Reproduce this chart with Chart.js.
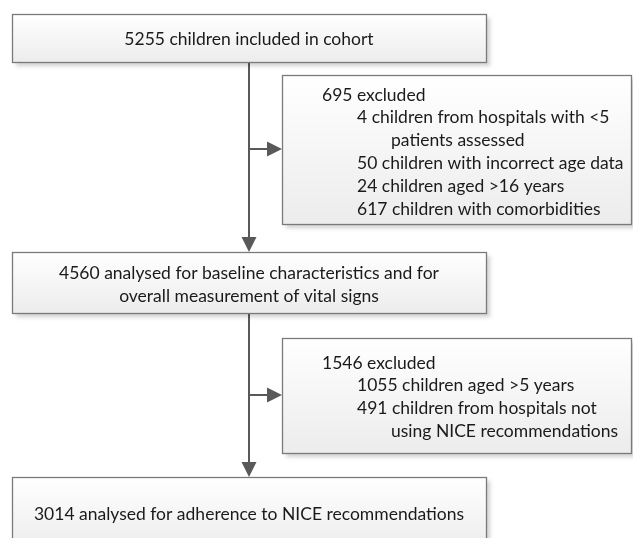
<!DOCTYPE html>
<html>
<head>
<meta charset="utf-8">
<script src="https://cdn.jsdelivr.net/npm/chart.js@4"></script>
<style>
  html, body { margin: 0; padding: 0; background: #fff; }
  #wrap { width: 633px; height: 538px; }
</style>
</head>
<body>
<div id="wrap"><canvas id="flow"></canvas></div>
<script>
// ---------- DATA ----------
const stageCounts = [5255, 4560, 3014];
const stageLabels = [
  ["children included in cohort"],
  ["analysed for baseline characteristics and for", "overall measurement of vital signs"],
  ["analysed for adherence to NICE recommendations"]
];

const excludedTotals = [695, 1546];
const excl1Counts = [4, 50, 24, 617];
const excl1Labels = [
  ["children from hospitals with <5", "patients assessed"],
  ["children with incorrect age data"],
  ["children aged >16 years"],
  ["children with comorbidities"]
];
const excl2Counts = [1055, 491];
const excl2Labels = [
  ["children aged >5 years"],
  ["children from hospitals not", "using NICE recommendations"]
];

// ---------- LAYOUT (page units, y goes down) ----------
const mainBoxes = [
  { x0: 12, x1: 486, y0: 14, y1: 62, textY: 38 },
  { x0: 12, x1: 486, y0: 252, y1: 313, textY: 284 },
  { x0: 12, x1: 486, y0: 477, y1: 550, textY: 513 }
];
const sideBoxes = [
  { x0: 282, x1: 631, y0: 75, y1: 224, branchY: 149, textY: 94 },
  { x0: 282, x1: 631, y0: 338, y1: 453, branchY: 395, textY: 362 }
];
const spineX = 249;
const LINE_H = 22.8;
const FONT = "17.5px Lato";
const indents = [322, 357, 391];

function buildMainText(i) {
  const lines = stageLabels[i].slice();
  lines[0] = stageCounts[i] + " " + lines[0];
  return lines;
}

function buildSideText(total, counts, labels) {
  const out = [{ t: total + " excluded", indent: 0 }];
  counts.forEach((c, i) => {
    labels[i].forEach((l, j) => {
      out.push(j === 0 ? { t: c + " " + l, indent: 1 } : { t: l, indent: 2 });
    });
  });
  return out;
}

// ---------- PLUGIN ----------
const flowPlugin = {
  id: "flow",
  afterDraw(chart) {
    const ctx = chart.ctx;
    const sx = v => chart.scales.x.getPixelForValue(v);
    const sy = v => chart.scales.y.getPixelForValue(v);

    function box(b) {
      const x0 = Math.round(sx(b.x0)) + 0.5, x1 = Math.round(sx(b.x1)) + 0.5;
      const y0 = Math.round(sy(b.y0)) + 0.5, y1 = Math.round(sy(b.y1)) + 0.5;
      ctx.save();
      ctx.shadowColor = "rgba(0,0,0,0.18)";
      ctx.shadowBlur = 4;
      ctx.shadowOffsetX = 3;
      ctx.shadowOffsetY = 3;
      const g = ctx.createLinearGradient(0, y0, 0, y1);
      g.addColorStop(0, "#ffffff");
      g.addColorStop(1, "#ececec");
      ctx.fillStyle = g;
      ctx.fillRect(x0, y0, x1 - x0, y1 - y0);
      ctx.restore();
      ctx.save();
      ctx.strokeStyle = "#7a7a7a";
      ctx.lineWidth = 1.3;
      ctx.strokeRect(x0, y0, x1 - x0, y1 - y0);
      ctx.restore();
    }

    function arrow(xa, ya, xb, yb) {
      const ax = sx(xa), ay = sy(ya), bx = sx(xb), by = sy(yb);
      const ang = Math.atan2(by - ay, bx - ax);
      const L = 15, W = 7.5;
      ctx.save();
      ctx.strokeStyle = "#595959";
      ctx.fillStyle = "#595959";
      ctx.lineWidth = 2;
      ctx.beginPath();
      ctx.moveTo(ax, ay);
      ctx.lineTo(bx - Math.cos(ang) * (L - 2), by - Math.sin(ang) * (L - 2));
      ctx.stroke();
      ctx.beginPath();
      ctx.moveTo(bx, by);
      ctx.lineTo(bx - Math.cos(ang) * L - Math.sin(ang) * W, by - Math.sin(ang) * L + Math.cos(ang) * W);
      ctx.lineTo(bx - Math.cos(ang) * L + Math.sin(ang) * W, by - Math.sin(ang) * L - Math.cos(ang) * W);
      ctx.closePath();
      ctx.fill();
      ctx.restore();
    }

    // connectors
    arrow(spineX, mainBoxes[0].y1, spineX, mainBoxes[1].y0);
    arrow(spineX, sideBoxes[0].branchY, sideBoxes[0].x0, sideBoxes[0].branchY);
    arrow(spineX, mainBoxes[1].y1, spineX, mainBoxes[2].y0);
    arrow(spineX, sideBoxes[1].branchY, sideBoxes[1].x0, sideBoxes[1].branchY);

    // boxes
    mainBoxes.forEach(box);
    sideBoxes.forEach(box);

    ctx.save();
    ctx.font = FONT;
    ctx.fillStyle = "#1a1a1a";
    ctx.textBaseline = "middle";

    // main box text, centred
    ctx.textAlign = "center";
    mainBoxes.forEach((b, i) => {
      const lines = buildMainText(i);
      const start = b.textY - (lines.length - 1) * LINE_H / 2;
      lines.forEach((l, k) => {
        ctx.fillText(l, sx((b.x0 + b.x1) / 2), sy(start + k * LINE_H) + 1);
      });
    });

    // side box text, indented
    ctx.textAlign = "left";
    const sideText = [
      buildSideText(excludedTotals[0], excl1Counts, excl1Labels),
      buildSideText(excludedTotals[1], excl2Counts, excl2Labels)
    ];
    sideText.forEach((lines, i) => {
      lines.forEach((l, k) => {
        ctx.fillText(l.t, sx(indents[l.indent]), sy(sideBoxes[i].textY + k * LINE_H) + 1);
      });
    });
    ctx.restore();
  }
};

// ---------- CHART ----------
new Chart(document.getElementById("flow"), {
  type: "scatter",
  data: {
    datasets: [{
      data: mainBoxes.map((b, i) => ({ x: spineX, y: (b.y0 + b.y1) / 2, n: stageCounts[i] })),
      pointRadius: 0,
      pointHoverRadius: 0
    }]
  },
  options: {
    responsive: true,
    maintainAspectRatio: false,
    animation: false,
    layout: { padding: 0 },
    plugins: { legend: { display: false }, tooltip: { enabled: false } },
    scales: {
      x: { type: "linear", min: 0, max: 633, display: false },
      y: { type: "linear", min: 0, max: 538, reverse: true, display: false }
    }
  },
  plugins: [flowPlugin]
});
</script>
</body>
</html>
